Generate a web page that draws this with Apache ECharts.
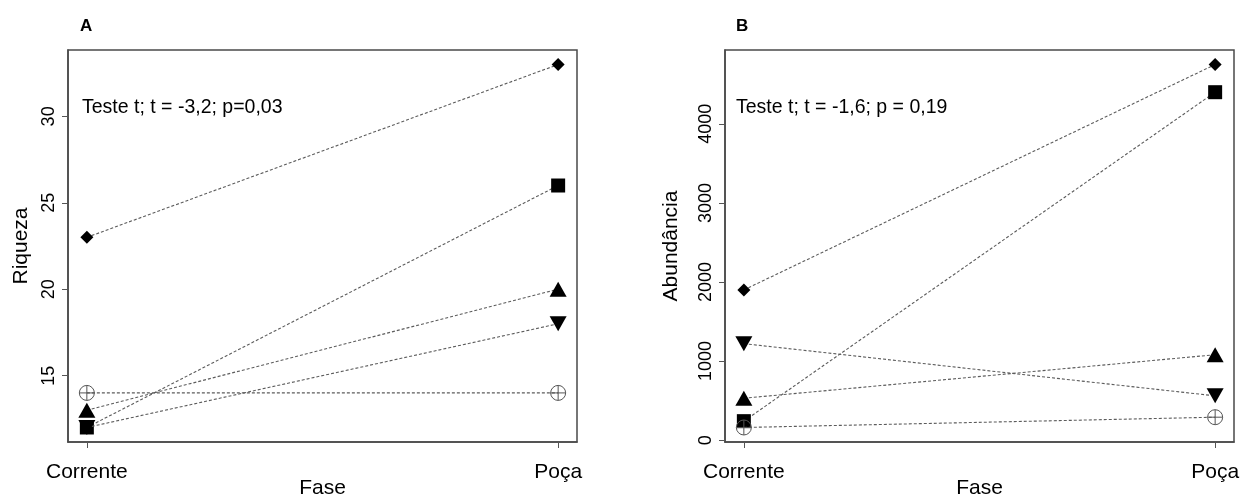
<!DOCTYPE html>
<html>
<head>
<meta charset="utf-8">
<script src="https://cdn.jsdelivr.net/npm/echarts@6/dist/echarts.min.js"></script>
<style>
  html, body { margin: 0; padding: 0; background: #fff; }
  #chart { width: 1243px; height: 498px; }
</style>
</head>
<body>
<div id="chart"></div>
<script>
// Phase categories (x axis)
const fases = ['Corrente', 'Poça'];

// Richness per site: [Corrente, Poça]
const riquezaDiamante = [23, 33];
const riquezaQuadrado = [12, 26];
const riquezaTriangulo = [13, 20];
const riquezaTrianguloInv = [12, 18];
const riquezaCirculo = [14, 14];

// Abundance per site: [Corrente, Poça]
const abundDiamante = [1900, 4750];
const abundQuadrado = [240, 4400];
const abundTriangulo = [530, 1080];
const abundTrianguloInv = [1220, 560];
const abundCirculo = [160, 290];

// Tick labels
const riquezaTicks = [15, 20, 25, 30];
const abundTicks = [0, 1000, 2000, 3000, 4000];

const panelTitles = ['A', 'B'];
const testeTextos = ['Teste t; t = -3,2; p=0,03', 'Teste t; t = -1,6; p = 0,19'];
const yNomes = ['Riqueza', 'Abundância'];
const xNome = 'Fase';

const FONT = '"Liberation Sans", Arial, sans-serif';
const LINE_COLOR = '#5c5c5c';
const FRAME = '#4a4a4a';
const circlePlus = 'path://M0,-10A10,10 0 1,1 0,10A10,10 0 1,1 0,-10ZM-10,0L10,0M0,-10L0,10';

const symbolStyles = [
  { symbol: 'diamond', symbolSize: 13, fill: '#000' },
  { symbol: 'rect', symbolSize: 14, fill: '#000' },
  { symbol: 'triangle', symbolSize: [17, 15], fill: '#000' },
  { symbol: 'triangle', symbolSize: [17, 15], fill: '#000', rotate: 180 },
  { symbol: circlePlus, symbolSize: 15, fill: 'none', stroke: '#555' }
];

// R-style padded range: 4% on either side of the data
function paddedRange(arrays) {
  const all = [].concat(...arrays);
  const lo = Math.min(...all), hi = Math.max(...all);
  const pad = (hi - lo) * 0.04;
  return [lo - pad, hi + pad];
}

const panels = [
  { series: [riquezaDiamante, riquezaQuadrado, riquezaTriangulo, riquezaTrianguloInv, riquezaCirculo], ticks: riquezaTicks },
  { series: [abundDiamante, abundQuadrado, abundTriangulo, abundTrianguloInv, abundCirculo], ticks: abundTicks }
];

const grids = [
  { left: 68, top: 50, width: 509, height: 392 },
  { left: 725, top: 50, width: 509, height: 392 }
];
const yNameGaps = [36, 43];

const option = {
  animation: false,
  backgroundColor: '#fff',
  grid: grids.map(g => Object.assign({
    show: true, borderColor: FRAME, borderWidth: 1.5, backgroundColor: 'transparent',
    containLabel: false, outerBoundsMode: 'none'
  }, g)),
  xAxis: panels.map((p, i) => ({
    type: 'value', gridIndex: i, min: -0.04, max: 1.04,
    position: 'bottom',
    axisLine: { show: true, onZero: false, lineStyle: { color: FRAME, width: 1.5 } },
    splitLine: { show: false },
    axisTick: { show: true, inside: false, length: 6, customValues: [0, 1], lineStyle: { color: '#555', width: 1 } },
    axisLabel: {
      customValues: [0, 1], margin: 20, fontSize: 21, fontFamily: FONT, color: '#000',
      formatter: v => fases[Math.round(v)]
    },
    name: xNome, nameLocation: 'middle', nameGap: 36, nameMoveOverlap: false,
    nameTextStyle: { fontSize: 21, fontFamily: FONT, color: '#000' }
  })),
  yAxis: panels.map((p, i) => {
    const r = paddedRange(p.series);
    return {
      type: 'value', gridIndex: i, min: r[0], max: r[1],
      position: 'left',
      axisLine: { show: true, onZero: false, lineStyle: { color: FRAME, width: 1.5 } },
      splitLine: { show: false },
      axisTick: { show: true, inside: false, length: 6, customValues: p.ticks, lineStyle: { color: '#555', width: 1 } },
      axisLabel: {
        customValues: p.ticks, rotate: 90, margin: 10, fontSize: 18, fontFamily: FONT, color: '#000',
        formatter: v => String(v)
      },
      name: yNomes[i], nameLocation: 'middle', nameGap: yNameGaps[i], nameMoveOverlap: false,
      nameTextStyle: { fontSize: 21, fontFamily: FONT, color: '#000' }
    };
  }),
  graphic: [
    { type: 'text', left: 80, top: 18, style: { text: panelTitles[0], fontSize: 17, fontWeight: 'bold', fontFamily: FONT, fill: '#000' } },
    { type: 'text', left: 736, top: 18, style: { text: panelTitles[1], fontSize: 17, fontWeight: 'bold', fontFamily: FONT, fill: '#000' } },
    { type: 'text', left: 82, top: 98, style: { text: testeTextos[0], fontSize: 19.5, fontFamily: FONT, fill: '#000' } },
    { type: 'text', left: 736, top: 98, style: { text: testeTextos[1], fontSize: 19.5, fontFamily: FONT, fill: '#000' } }
  ],
  series: []
};

panels.forEach((p, i) => {
  p.series.forEach((vals, k) => {
    const s = symbolStyles[k];
    option.series.push({
      type: 'line', xAxisIndex: i, yAxisIndex: i,
      data: vals.map((v, j) => [j, v]),
      symbol: s.symbol, symbolSize: s.symbolSize, symbolRotate: s.rotate || 0,
      showAllSymbol: true,
      lineStyle: { color: LINE_COLOR, width: 1.1, type: [3, 2] },
      itemStyle: { color: s.fill, borderColor: s.stroke || s.fill, borderWidth: s.stroke ? 1 : 0, opacity: 1 },
      z: 3 + k
    });
  });
});

const chart = echarts.init(document.getElementById('chart'), null, { renderer: 'canvas' });
chart.setOption(option);
</script>
</body>
</html>
